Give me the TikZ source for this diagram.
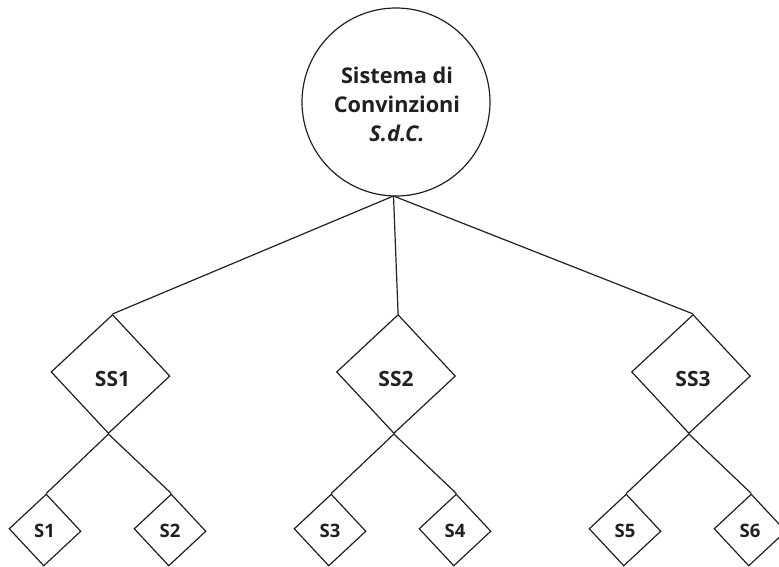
\documentclass[tikz,border=0pt]{standalone}
\usepackage{fontspec}
\setmainfont{Open Sans}
\usetikzlibrary{shapes.geometric}
\definecolor{ink}{HTML}{231F20}
\tikzset{
  conn/.style={draw=ink, line width=1.2pt},
  rootnode/.style={circle, draw=ink, line width=1.2pt, minimum size=188pt, inner sep=0pt},
  bigdia/.style={diamond, draw=ink, line width=1.2pt, minimum width=119pt, minimum height=119pt, inner sep=0pt, rotate=-2},
  smalldia/.style={diamond, draw=ink, line width=1.2pt, minimum width=72pt, minimum height=72pt, inner sep=0pt, rotate=-2},
  bigtxt/.style={font=\fontsize{21}{25}\selectfont\bfseries, text=ink, inner sep=0pt, anchor=base},
  smalltxt/.style={font=\fontsize{18.5}{20}\selectfont\bfseries, text=ink, inner sep=0pt, anchor=base},
  roottxt/.style={font=\fontsize{21.7}{29.3}\selectfont\bfseries, text=ink, inner sep=0pt, align=center, anchor=base}
}
\begin{document}
\begin{tikzpicture}[x=1pt,y=-1pt]
\useasboundingbox (0,0) rectangle (779,566);
\clip (0,0) rectangle (779,566);
% root
\node[rootnode] (root) at (396,102) {};
\node[roottxt] (roottext) at (397,141.7) {Sistema di\\Convinzioni\\{\itshape S.d.C.}};
% level 1
\node[bigdia] (SS1) at (110.5,374) {};
\node[bigdia] (SS2) at (396,374) {};
\node[bigdia] (SS3) at (691,374) {};
\node[bigtxt] (SS1t) at (112.5,386) {SS1};
\node[bigtxt] (SS2t) at (396,386) {SS2};
\node[bigtxt] (SS3t) at (693,386) {SS3};
% level 2
\node[smalldia] (S1) at (45,530) {};
\node[smalldia] (S2) at (170,530) {};
\node[smalldia] (S3) at (330,530) {};
\node[smalldia] (S4) at (455,530) {};
\node[smalldia] (S5) at (625,530) {};
\node[smalldia] (S6) at (750,530) {};
\node[smalltxt] (S1t) at (44.5,537.3) {S1};
\node[smalltxt] (S2t) at (170,537.3) {S2};
\node[smalltxt] (S3t) at (330,537.3) {S3};
\node[smalltxt] (S4t) at (455,537.3) {S4};
\node[smalltxt] (S5t) at (625,537.3) {S5};
\node[smalltxt] (S6t) at (750,537.3) {S6};
% connectors
\coordinate (rootbot) at (393.5,196);
\draw[conn] (rootbot) -- (SS1.north);
\draw[conn] (rootbot) -- (SS2.north);
\draw[conn] (rootbot) -- (SS3.north);
\draw[conn] (SS1.south) -- (S1.north);
\draw[conn] (SS1.south) -- (S2.north);
\draw[conn] (SS2.south) -- (S3.north);
\draw[conn] (SS2.south) -- (S4.north);
\draw[conn] (SS3.south) -- (S5.north);
\draw[conn] (SS3.south) -- (S6.north);
\end{tikzpicture}
\end{document}
